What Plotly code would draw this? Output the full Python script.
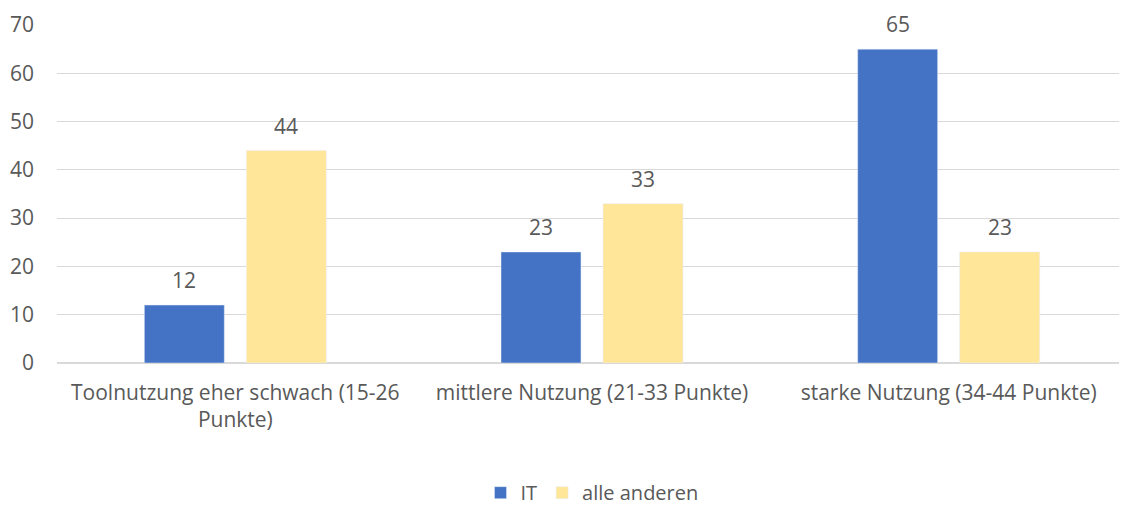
import plotly.graph_objects as go

categories = [
    "Toolnutzung eher schwach (15-26<br>Punkte)",
    "mittlere Nutzung (21-33 Punkte)",
    "starke Nutzung (34-44 Punkte)",
]
it_values = [12, 23, 65]
other_values = [44, 33, 23]

TEXT = "#595959"
FONT = "'Open Sans', sans-serif"
SIZE = 21

fig = go.Figure()
fig.add_trace(go.Bar(x=categories, y=it_values, name="IT", marker_color="#4472C4"))
fig.add_trace(go.Bar(x=categories, y=other_values, name="alle anderen", marker_color="#FFE699"))

# value labels above the bars
for vals, shift in ((it_values, -51), (other_values, 51)):
    for cat, v in zip(categories, vals):
        fig.add_annotation(
            x=cat,
            y=v,
            text=str(v),
            showarrow=False,
            xshift=shift,
            yshift=25,
            font={"size": SIZE, "color": TEXT},
        )

# the page body adds an 8px offset
fig.update_layout(
    width=1119,
    height=508,
    margin={"l": 49, "r": 0, "t": 17, "b": 153, "autoexpand": False},
    plot_bgcolor="white",
    paper_bgcolor="white",
    font={"family": FONT, "size": SIZE, "color": TEXT},
    barmode="group",
    bargap=0.428,
    bargroupgap=0.216,
    showlegend=True,
    legend={
        "orientation": "h",
        "x": 0.5,
        "xanchor": "center",
        "yref": "container",
        "y": 0.046,
        "yanchor": "middle",
        "font": {"size": 20},
        "itemwidth": 30,
    },
    xaxis={
        "showgrid": False,
        "showline": False,
        "ticks": "",
        "ticklabelstandoff": 15,
    },
    yaxis={
        "range": [0, 70],
        "dtick": 10,
        "gridcolor": "#D9D9D9",
        "gridwidth": 1,
        "zeroline": True,
        "zerolinecolor": "#D9D9D9",
        "showline": False,
        "ticklabelstandoff": 22,
    },
)

fig.write_html("out.html")
